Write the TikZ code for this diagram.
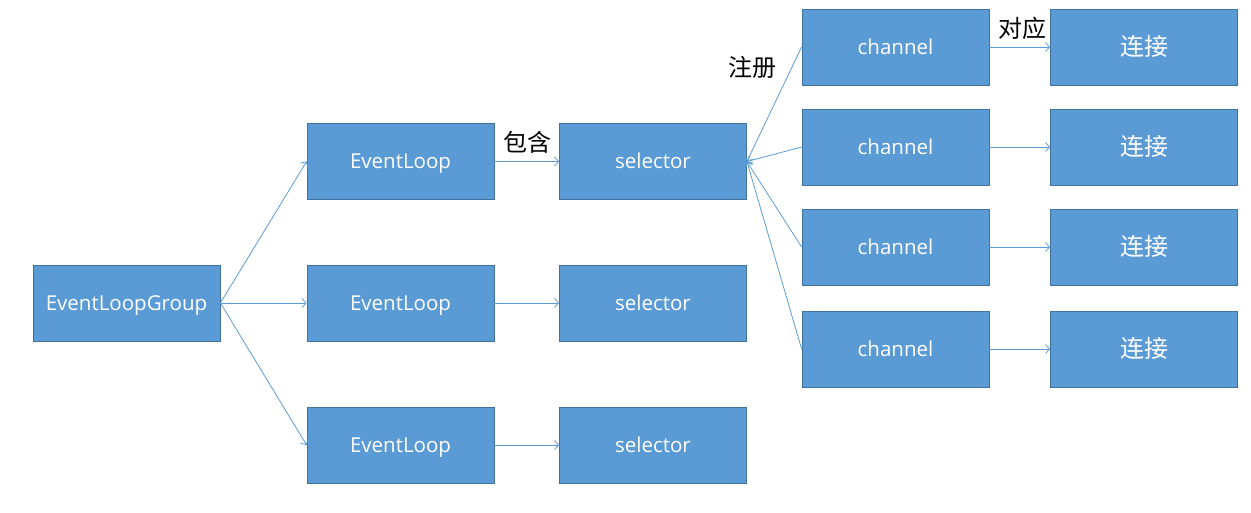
\documentclass[tikz,border=0pt]{standalone}
\usepackage{fontspec}
\setmainfont{Open Sans}
\newfontfamily\cjk{Noto Sans CJK SC}
\usetikzlibrary{arrows.meta}
\definecolor{boxfill}{HTML}{5B9BD5}
\definecolor{boxline}{HTML}{41719C}
\definecolor{arr}{HTML}{5B9BD5}
\begin{document}
\begin{tikzpicture}[x=1pt,y=-1pt,
  blk/.style={draw=boxline,fill=boxfill,line width=0.8pt,minimum width=187pt,minimum height=76pt,inner sep=0pt,text=white,text height=14.5pt,text depth=0pt,font=\fontsize{20.5}{24}\selectfont},
  cblk/.style={blk,text height=17pt,text depth=0pt,font=\cjk\fontsize{24}{28}\selectfont},
  conn/.style={draw=arr,line width=0.8pt,-{Straight Barb[length=4pt,width=9pt]}},
  lbl/.style={font=\cjk\fontsize{24}{28}\selectfont,text=black,inner sep=0pt}]
\useasboundingbox (0,0) rectangle (1251,512);
\node[blk] (g) at (126.5,303) {EventLoopGroup};
\node[blk] (e1) at (400.5,161.5) {EventLoop};
\node[blk] (e2) at (400.5,303) {EventLoop};
\node[blk] (e3) at (400.5,445) {EventLoop};
\node[blk] (s1) at (653,161.5) {selector};
\node[blk] (s2) at (653,303) {selector};
\node[blk] (s3) at (653,445) {selector};
\node[blk] (c1) at (895.5,47) {channel};
\node[blk] (c2) at (895.5,147) {channel};
\node[blk] (c3) at (895.5,247) {channel};
\node[blk] (c4) at (895.5,349) {channel};
\node[cblk] (k1) at (1144,47) {连接};
\node[cblk] (k2) at (1144,147) {连接};
\node[cblk] (k3) at (1144,247) {连接};
\node[cblk] (k4) at (1144,349) {连接};
\draw[conn] (g.east) -- (e1.west);
\draw[conn] (g.east) -- (e2.west);
\draw[conn] (g.east) -- (e3.west);
\draw[conn] (e1.east) -- (s1.west);
\draw[conn] (e2.east) -- (s2.west);
\draw[conn] (e3.east) -- (s3.west);
\foreach \i in {1,2,3,4} {
  \draw[conn] (c\i.west) -- (s1.east);
  \draw[conn] (c\i.east) -- (k\i.west);
}
\node[lbl] (t1) at (527,142) {包含};
\node[lbl] (t2) at (752,67) {注册};
\node[lbl] (t3) at (1022,28) {对应};
\end{tikzpicture}
\end{document}
